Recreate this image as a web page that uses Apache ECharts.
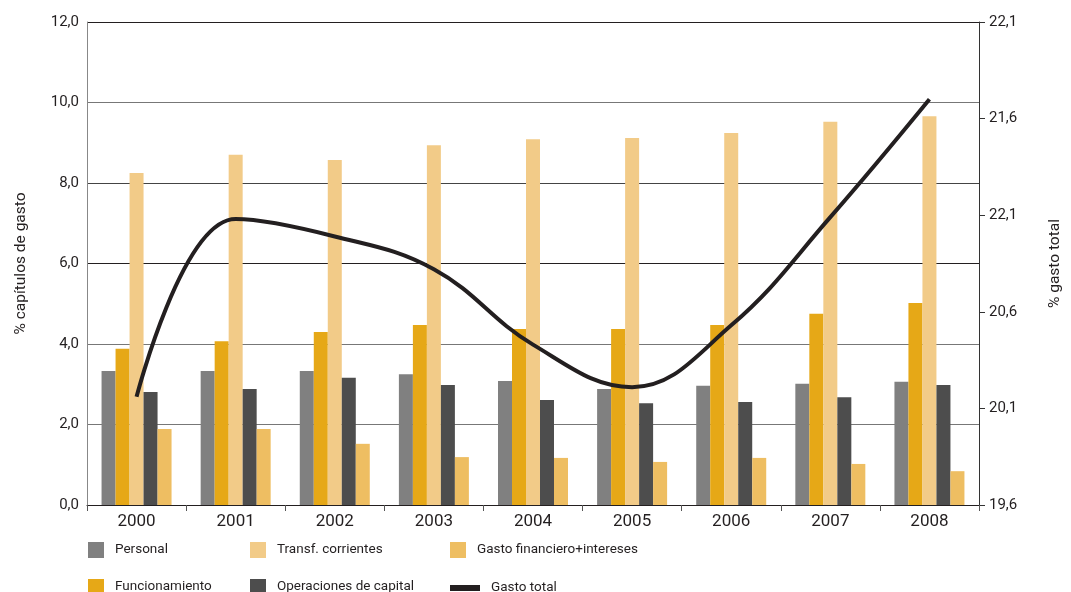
<!DOCTYPE html>
<html>
<head>
<meta charset="utf-8">
<script src="https://cdn.jsdelivr.net/npm/echarts@6/dist/echarts.min.js"></script>
<style>html,body{margin:0;padding:0;background:#fff}#c{width:1071px;height:592px}</style>
</head>
<body>
<div id="c"></div>
<script>
const years = ['2000','2001','2002','2003','2004','2005','2006','2007','2008'];
const personal = [3.33, 3.33, 3.33, 3.25, 3.08, 2.88, 2.96, 3.01, 3.06];
const funcionamiento = [3.88, 4.07, 4.30, 4.47, 4.37, 4.37, 4.47, 4.75, 5.02];
const transfCorrientes = [8.25, 8.70, 8.57, 8.94, 9.09, 9.12, 9.24, 9.52, 9.66];
const operacionesCapital = [2.81, 2.88, 3.16, 2.98, 2.61, 2.53, 2.56, 2.68, 2.98];
const gastoFinanciero = [1.89, 1.89, 1.52, 1.19, 1.17, 1.07, 1.17, 1.02, 0.84];
const gastoTotal = [20.16, 21.08, 20.99, 20.82, 20.43, 20.21, 20.53, 21.09, 21.70];
const leftTickLabels = ['0,0','2,0','4,0','6,0','8,0','10,0','12,0'];
const rightTickLabels = ['19,6','20,1','20,6','22,1','21,6','22,1'];

const FONT = 'Roboto';
const TXT = '#231f20';
const chart = echarts.init(document.getElementById('c'), null, {renderer: 'canvas'});

function barSeries(name, data, color) {
  return {name, type: 'bar', data, yAxisIndex: 0, barWidth: 14, barGap: '0%',
    itemStyle: {color}, emphasis: {disabled: true}};
}
function legendAt(name, left, top, extra) {
  return Object.assign({
    data: [name], left, top, orient: 'horizontal', selectedMode: false,
    itemWidth: 16, itemHeight: 16, icon: 'rect', itemGap: 0,
    textStyle: {fontFamily: FONT, fontSize: 13.5, color: TXT, padding: [0, 0, 0, 6]}
  }, extra || {});
}

chart.setOption({
  animation: false,
  grid: {left: 87, right: 89, top: 22, bottom: 87, containLabel: false},
  legend: [
    legendAt('Personal', 83, 537),
    legendAt('Funcionamiento', 83, 574),
    legendAt('Transf. corrientes', 245, 537),
    legendAt('Operaciones de capital', 245, 574),
    legendAt('Gasto financiero+intereses', 445, 537),
    legendAt('Gasto total', 445, 576, {itemWidth: 30, itemHeight: 6})
  ],
  xAxis: {
    type: 'category', data: years,
    axisLine: {lineStyle: {color: '#231f20', width: 1}},
    axisTick: {show: true, alignWithLabel: false, length: 6, lineStyle: {color: '#555'}},
    axisLabel: {fontFamily: FONT, fontSize: 17, color: TXT, margin: 8}
  },
  yAxis: [
    {
      type: 'value', min: 0, max: 12, interval: 2, position: 'left',
      name: '% capítulos de gasto', nameLocation: 'middle', nameRotate: 90, nameGap: 58,
      nameTextStyle: {fontFamily: FONT, fontSize: 15.5, color: TXT},
      axisLine: {show: true, lineStyle: {color: '#888'}},
      axisTick: {show: false},
      axisLabel: {fontFamily: FONT, fontSize: 15, color: TXT, margin: 8,
        formatter: (v, i) => leftTickLabels[i]},
      splitLine: {lineStyle: {color: ['#231f20', '#777', '#777', '#231f20', '#444', '#777', '#231f20'], width: 1}}
    },
    {
      type: 'value', min: 19.6, max: 22.1, interval: 0.5, position: 'right',
      name: '% gasto total', nameLocation: 'middle', nameRotate: 90, nameGap: 68,
      nameTextStyle: {fontFamily: FONT, fontSize: 15.5, color: TXT},
      axisLine: {show: true, lineStyle: {color: '#333'}},
      axisTick: {show: true, length: 6, lineStyle: {color: '#333'}},
      axisLabel: {fontFamily: FONT, fontSize: 15, color: TXT, margin: 10,
        formatter: (v, i) => rightTickLabels[i]},
      splitLine: {show: false}
    }
  ],
  series: [
    barSeries('Personal', personal, '#808080'),
    barSeries('Funcionamiento', funcionamiento, '#e6a817'),
    barSeries('Transf. corrientes', transfCorrientes, '#f2cb88'),
    barSeries('Operaciones de capital', operacionesCapital, '#4d4d4d'),
    barSeries('Gasto financiero+intereses', gastoFinanciero, '#eebe62'),
    {name: 'Gasto total', type: 'line', yAxisIndex: 1, data: gastoTotal, smooth: 0.4,
      showSymbol: false, symbol: 'none', lineStyle: {color: '#231f20', width: 4},
      itemStyle: {color: '#231f20'}, emphasis: {disabled: true}, z: 5}
  ]
});
</script>
</body>
</html>
